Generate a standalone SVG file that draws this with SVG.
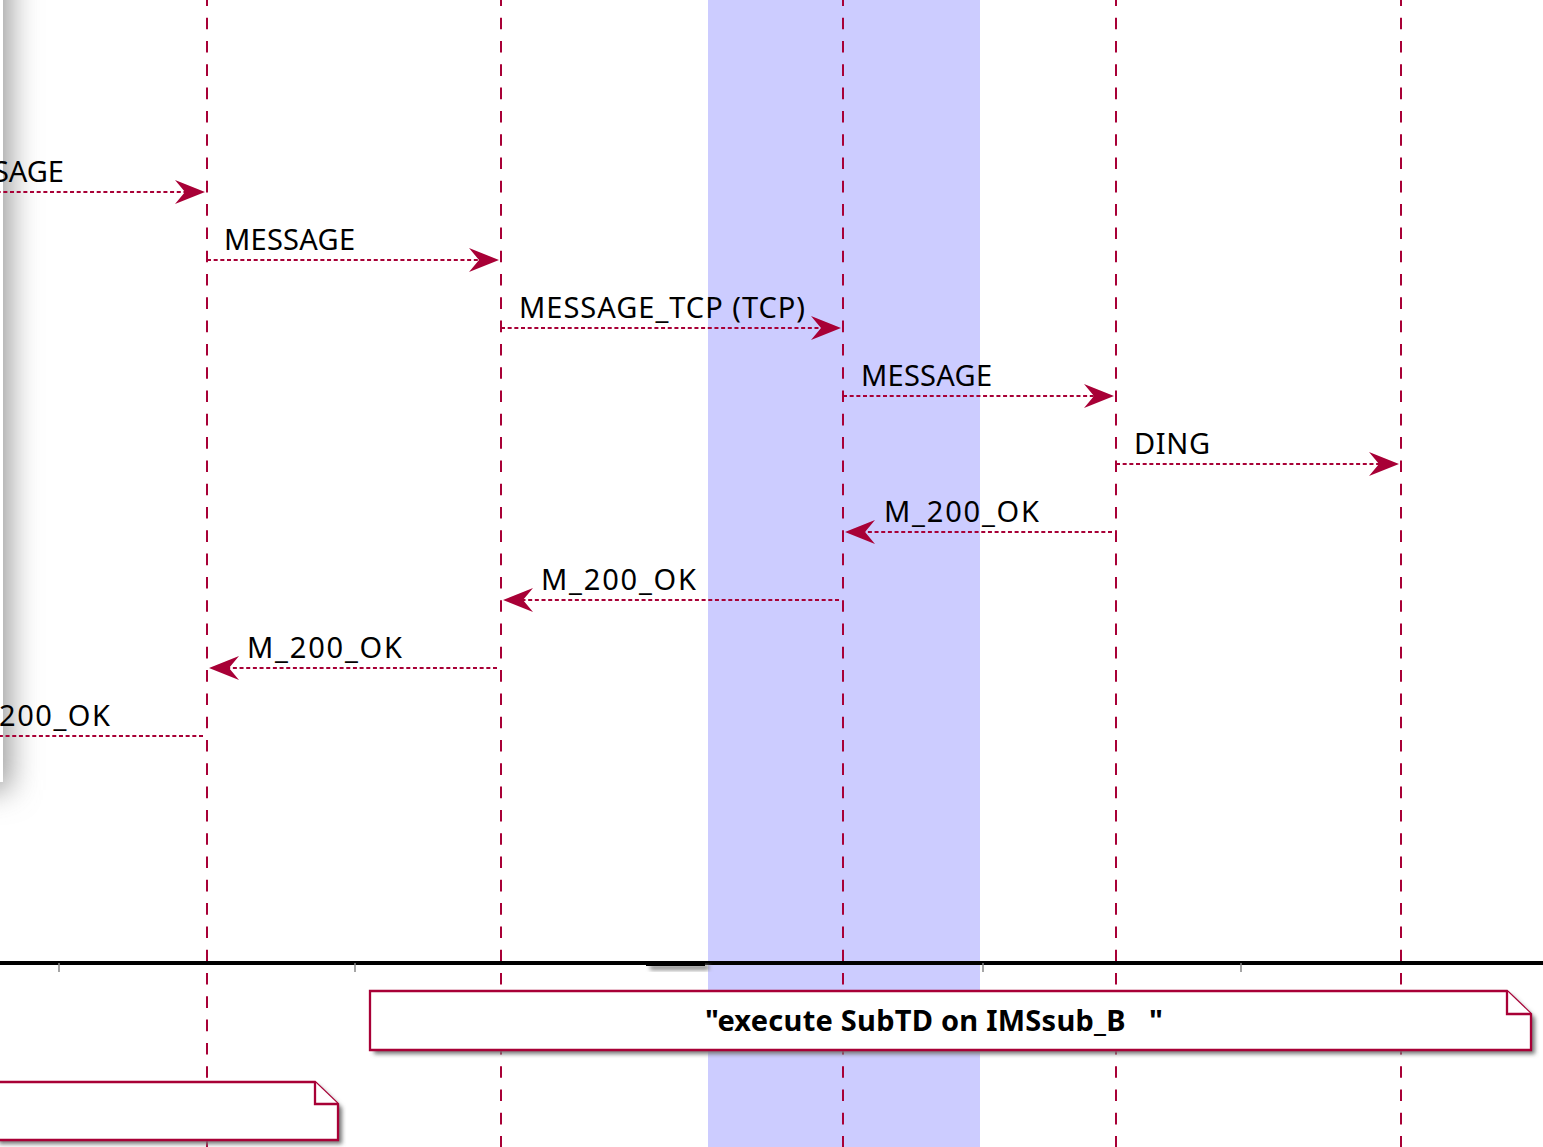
<svg xmlns="http://www.w3.org/2000/svg" width="1543" height="1147" viewBox="0 0 1543 1147">
<style>
.life{stroke:#A80036;stroke-width:2;stroke-dasharray:11.6 11.7;fill:none}
.msg{stroke:#A80036;stroke-width:2;stroke-dasharray:4 2.67;fill:none}
.head{fill:#A80036;stroke:none}
.lbl{font-family:"Noto Sans","DejaVu Sans",sans-serif;font-size:29px;fill:#000}
.note{fill:#FFFFFF;stroke:#A80036;stroke-width:2.3}
.nshadow{fill:#777;filter:url(#nblur)}
.ntxt{font-family:"Noto Sans","DejaVu Sans",sans-serif;font-size:29px;font-weight:bold;fill:#000;white-space:pre}
.tick{stroke:#888;stroke-width:1.5}
</style>
<defs>
<filter id="bigblur" x="-50%" y="-50%" width="200%" height="200%"><feGaussianBlur stdDeviation="15"/></filter>
<filter id="nblur" x="-10%" y="-30%" width="120%" height="160%"><feGaussianBlur stdDeviation="2"/></filter>
</defs>
<rect x="0" y="0" width="1543" height="1147" fill="#FFFFFF"/>
<g id="shadow-box">
<rect x="-700" y="-100" width="710" height="890" fill="#999999" filter="url(#bigblur)"/>
<rect x="-10" y="-10" width="13" height="792" fill="#FFFFFF"/>
</g>
<g id="band">
<rect x="708" y="0" width="272" height="1147" fill="#CCCCFF"/>
</g>
<g id="lifelines">
<line class="life" x1="207" y1="-5.6" x2="207" y2="1147"/>
<line class="life" x1="501" y1="-5.6" x2="501" y2="1147"/>
<line class="life" x1="843" y1="-5.6" x2="843" y2="1147"/>
<line class="life" x1="1116" y1="-5.6" x2="1116" y2="1147"/>
<line class="life" x1="1401" y1="-5.6" x2="1401" y2="1147"/>
</g>
<g id="connectors">
<line class="msg" x1="-10" y1="192" x2="200" y2="192"/>
<polygon class="head" points="205,192 175,180 185,192 175,204"/>
<text class="lbl" x="64" y="182" text-anchor="end">SAGE</text>

<line class="msg" x1="207" y1="260" x2="494" y2="260"/>
<polygon class="head" points="499,260 469,248 479,260 469,272"/>
<text class="lbl" x="224" y="250" textLength="131">MESSAGE</text>

<line class="msg" x1="501" y1="328" x2="836" y2="328"/>
<polygon class="head" points="841,328 811,316 821,328 811,340"/>
<text class="lbl" x="519" y="318" textLength="286">MESSAGE_TCP (TCP)</text>

<line class="msg" x1="843" y1="396" x2="1109" y2="396"/>
<polygon class="head" points="1114,396 1084,384 1094,396 1084,408"/>
<text class="lbl" x="861" y="386" textLength="131">MESSAGE</text>

<line class="msg" x1="1116" y1="464" x2="1394" y2="464"/>
<polygon class="head" points="1399,464 1369,452 1379,464 1369,476"/>
<text class="lbl" x="1134" y="454" textLength="76">DING</text>

<line class="msg" x1="1112" y1="532" x2="850" y2="532"/>
<polygon class="head" points="845,532 875,520 865,532 875,544"/>
<text class="lbl" x="884" y="522" textLength="155">M_200_OK</text>

<line class="msg" x1="839" y1="600" x2="508" y2="600"/>
<polygon class="head" points="503,600 533,588 523,600 533,612"/>
<text class="lbl" x="541" y="590" textLength="155">M_200_OK</text>

<line class="msg" x1="497" y1="668" x2="214" y2="668"/>
<polygon class="head" points="209,668 239,656 229,668 239,680"/>
<text class="lbl" x="247" y="658" textLength="155">M_200_OK</text>

<line class="msg" x1="203" y1="736" x2="-10" y2="736"/>
<text class="lbl" x="-1" y="726" textLength="111">200_OK</text>
</g>
<g id="axis">
<line x1="0" y1="963" x2="1543" y2="963" stroke="#000" stroke-width="4"/>
<rect x="650" y="965" width="59" height="5" fill="#888" filter="url(#nblur)"/>
<rect x="646" y="961" width="59" height="5" fill="#000"/>
<line class="tick" x1="59" y1="963" x2="59" y2="972"/>
<line class="tick" x1="355" y1="963" x2="355" y2="972"/>
<line class="tick" x1="983" y1="963" x2="983" y2="972"/>
<line class="tick" x1="1241" y1="963" x2="1241" y2="972"/>
</g>
<g id="note-subtd">
<polygon class="nshadow" points="374,995 1511,995 1535,1018 1535,1054 374,1054"/>
<polygon class="note" points="370,991 1507,991 1531,1014 1531,1050 370,1050"/>
<polyline class="note" points="1507,991 1507,1014 1531,1014" fill="none"/>
<text class="ntxt" x="705" y="1031" textLength="458">"execute SubTD on IMSsub_B   "</text>
</g>
<g id="note-left">
<polygon class="nshadow" points="-1,1086 319,1086 342,1108 342,1144 -1,1144"/>
<polygon class="note" points="-5,1082 315,1082 338,1104 338,1140 -5,1140"/>
<polyline class="note" points="315,1082 315,1104 338,1104" fill="none"/>
</g>
</svg>
